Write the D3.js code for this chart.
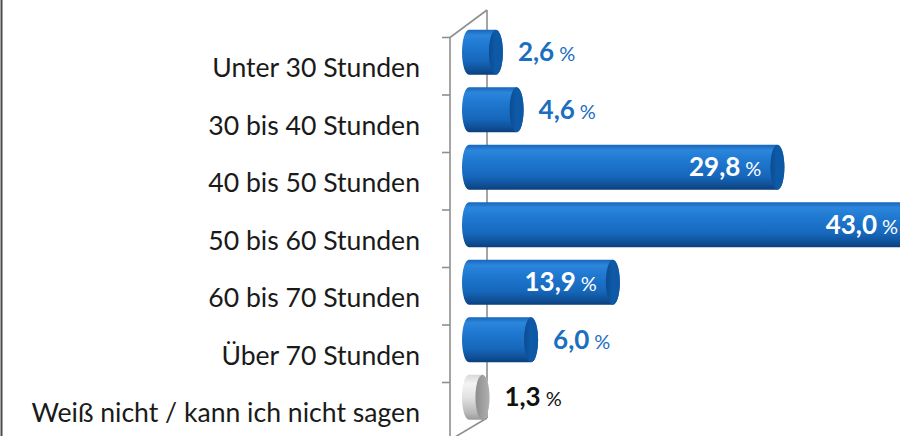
<!DOCTYPE html>
<html><head><meta charset="utf-8">
<script src="https://cdn.jsdelivr.net/npm/d3@7"></script>
<style>html,body{margin:0;padding:0;background:#fff;}svg{display:block;}</style>
</head><body>
<svg id="c" width="900" height="436"></svg>
<script>
const categories = ["Unter 30 Stunden","30 bis 40 Stunden","40 bis 50 Stunden","50 bis 60 Stunden","60 bis 70 Stunden","Über 70 Stunden","Weiß nicht / kann ich nicht sagen"];
const values = [2.6, 4.6, 29.8, 43.0, 13.9, 6.0, 1.3];
const valueLabels = ["2,6","4,6","29,8","43,0","13,9","6,0","1,3"];
const greyFlags = [false,false,false,false,false,false,true];

const svg = d3.select("#c");
const W = 900, H = 436;
const font = "Lato, 'Noto Sans', sans-serif";

const y = d3.scaleBand().domain(categories).range([37.5, 440]).padding(0);
const x = d3.scaleLinear().domain([0, 43]).range([469, 914]);
const bw = y.bandwidth();
const barH = 45, rx = 7, ry = barH/2;
const yOff = -14; // 3D depth shift of bars relative to front band

// frame line on left
svg.append("line").attr("x1",1.5).attr("x2",1.5).attr("y1",0).attr("y2",H)
  .attr("stroke","#4a4a4a").attr("stroke-width",2);

// defs gradients
const defs = svg.append("defs");
const gb = defs.append("linearGradient").attr("id","gBlue").attr("x1",0).attr("y1",0).attr("x2",0).attr("y2",1);
[[0,"#1766bb"],[0.12,"#2c86dc"],[0.35,"#1f78d0"],[0.7,"#1667bb"],[0.9,"#0f4f95"],[1,"#0b3f7a"]].forEach(s=>gb.append("stop").attr("offset",s[0]).attr("stop-color",s[1]));
const gbc = defs.append("linearGradient").attr("id","gBlueCap").attr("x1",0).attr("y1",0).attr("x2",1).attr("y2",0);
[[0,"#0a4c92"],[0.5,"#0f5aa8"],[1,"#0d57a3"]].forEach(s=>gbc.append("stop").attr("offset",s[0]).attr("stop-color",s[1]));
const gg = defs.append("linearGradient").attr("id","gGrey").attr("x1",0).attr("y1",0).attr("x2",0).attr("y2",1);
[[0,"#d8d8d8"],[0.2,"#f4f4f4"],[0.5,"#e2e2e2"],[0.85,"#b8b8b8"],[1,"#9a9a9a"]].forEach(s=>gg.append("stop").attr("offset",s[0]).attr("stop-color",s[1]));
const ggc = defs.append("linearGradient").attr("id","gGreyCap").attr("x1",0).attr("y1",0).attr("x2",1).attr("y2",0);
[[0,"#8d8d8d"],[1,"#b0b0b0"]].forEach(s=>ggc.append("stop").attr("offset",s[0]).attr("stop-color",s[1]));

// 3D wall lines
const wallColor = "#8f8f8f";
const g = svg.append("g");
const frontX = 450, backX = 487;
g.append("line").attr("x1",frontX).attr("x2",frontX).attr("y1",y.range()[0]).attr("y2",y.range()[1])
  .attr("stroke",wallColor).attr("stroke-width",1.6);
g.append("line").attr("x1",backX).attr("x2",backX).attr("y1",10).attr("y2",418)
  .attr("stroke",wallColor).attr("stroke-width",1.6);
g.append("line").attr("x1",frontX).attr("x2",backX).attr("y1",y.range()[0]).attr("y2",10)
  .attr("stroke",wallColor).attr("stroke-width",1.6);
g.append("line").attr("x1",frontX).attr("x2",backX).attr("y1",y.range()[1]).attr("y2",418)
  .attr("stroke",wallColor).attr("stroke-width",1.6);
const tickYs = categories.map(c=>y(c)).concat([y.range()[1]]);
g.selectAll("line.tick").data(tickYs).enter().append("line").attr("class","tick")
  .attr("x1",frontX-8).attr("x2",frontX).attr("y1",d=>d).attr("y2",d=>d)
  .attr("stroke",wallColor).attr("stroke-width",1.6);

// category labels
svg.selectAll("text.cat").data(categories).enter().append("text").attr("class","cat")
  .attr("x",420).attr("y",c=>y(c)+bw/2+yOff+25)
  .attr("text-anchor","end").attr("font-family",font).attr("font-size",26.6)
  .attr("fill","#1a1a1a").text(c=>c);

// bars
const data = categories.map((c,i)=>({c, v:values[i], lab:valueLabels[i], grey:greyFlags[i]}));
const bars = svg.selectAll("g.bar").data(data).enter().append("g").attr("class","bar");
bars.append("path").attr("d",d=>{
  const x0 = x(0), x1 = x(d.v), cy = y(d.c)+bw/2+yOff, t = cy-ry, b = cy+ry;
  return `M${x0},${t} L${x1},${t} A${rx},${ry} 0 0 1 ${x1},${b} L${x0},${b} A${rx},${ry} 0 0 1 ${x0},${t} Z`;
}).attr("fill",d=>d.grey?"url(#gGrey)":"url(#gBlue)");
bars.append("ellipse").attr("cx",d=>x(d.v)).attr("cy",d=>y(d.c)+bw/2+yOff)
  .attr("rx",rx).attr("ry",ry).attr("fill",d=>d.grey?"url(#gGreyCap)":"url(#gBlueCap)");

// value labels
const vt = svg.selectAll("text.val").data(data).enter().append("text").attr("class","val")
  .attr("font-family",font)
  .attr("y",d=>y(d.c)+bw/2+yOff+9)
  .attr("x",d=> d.v>10 ? x(d.v)-rx-9 : x(d.v)+rx+15)
  .attr("text-anchor",d=> d.v>10 ? "end":"start")
  .attr("fill",d=> d.v>10 ? "#ffffff" : (d.grey ? "#111111" : "#1c6ebf"));
vt.append("tspan").attr("font-weight","bold").attr("font-size",26).text(d=>d.lab);
vt.append("tspan").attr("font-size",20).attr("dx",5).text("%");
</script>
</body></html>
